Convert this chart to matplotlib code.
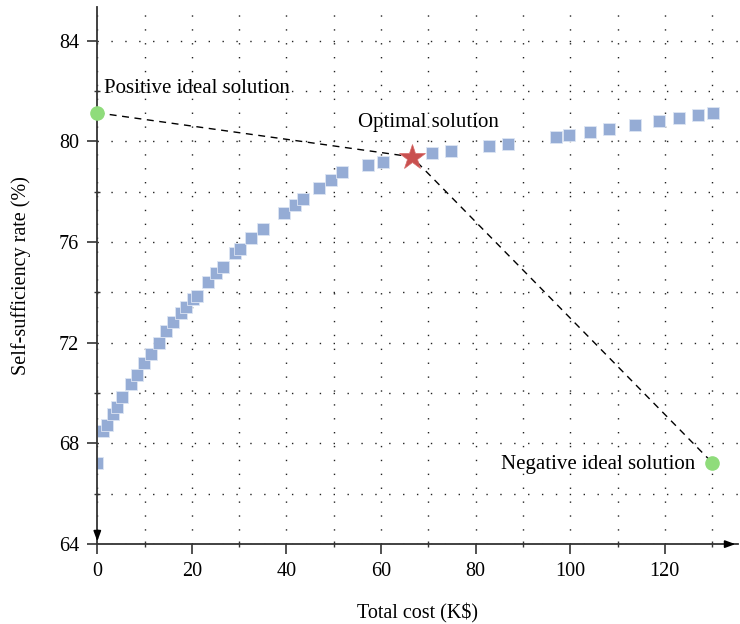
import matplotlib.pyplot as plt
from matplotlib.ticker import MultipleLocator

# Pareto front: total cost (K$) vs self-sufficiency rate (%)
cost = [0.0, 1.1, 1.95, 3.4, 4.2, 5.3, 7.1, 8.3, 9.8, 11.35, 13.0, 14.6, 16.1,
        17.7, 18.75, 20.3, 21.0, 23.5, 25.0, 26.5, 29.2, 30.2, 32.5, 35.1,
        39.5, 41.7, 43.4, 46.9, 49.4, 51.8, 57.3, 60.4, 70.8, 74.8, 82.8,
        86.9, 97.0, 99.8, 104.1, 108.2, 113.6, 118.7, 122.9, 127.0, 130.2]
rate = [67.24, 68.51, 68.75, 69.19, 69.45, 69.86, 70.38, 70.74, 71.18, 71.57,
        72.01, 72.47, 72.81, 73.18, 73.42, 73.74, 73.88, 74.42, 74.76, 75.03,
        75.55, 75.73, 76.15, 76.54, 77.16, 77.46, 77.70, 78.14, 78.45, 78.77,
        79.07, 79.19, 79.53, 79.63, 79.81, 79.92, 80.18, 80.26, 80.36, 80.50,
        80.66, 80.82, 80.92, 81.04, 81.12]

positive_ideal = (0.0, 81.14)
negative_ideal = (130.0, 67.24)
optimal = (66.5, 79.39)

plt.rcParams['font.family'] = ['Liberation Serif', 'DejaVu Serif']

fig = plt.figure(figsize=(7.4, 6.24), dpi=100)
ax = fig.add_axes([0.1315, 0.128, 0.866, 0.861])

ax.set_xlim(0, 135.5)
ax.set_ylim(64, 85.35)

grid_style = dict(color='#222222', linestyle=(0, (1, 9)), linewidth=1.0)
ax.xaxis.set_major_locator(MultipleLocator(20))
ax.xaxis.set_minor_locator(MultipleLocator(10))
ax.yaxis.set_major_locator(MultipleLocator(4))
ax.yaxis.set_minor_locator(MultipleLocator(2))
ax.grid(True, which='both', **grid_style)
ax.set_axisbelow(True)

# dashed lines ideal -> optimal -> negative
ax.plot([positive_ideal[0], optimal[0], negative_ideal[0]],
        [positive_ideal[1], optimal[1], negative_ideal[1]],
        color='black', linestyle=(0, (5, 4)), linewidth=1.0, zorder=3)

ax.plot(cost, rate, linestyle='none', marker='s', markersize=9.3,
        markerfacecolor='#95acd5', markeredgecolor='#dde5f3',
        markeredgewidth=0.6, zorder=2, clip_on=True)

ax.plot(*positive_ideal, 'o', color='#8fdc7b', markersize=9.5, zorder=4, clip_on=False)
ax.plot(*negative_ideal, 'o', color='#8fdc7b', markersize=9.5, zorder=4, clip_on=False)
ax.plot(*optimal, '*', color='#c9504f', markersize=19, markeredgecolor='#d76a68',
        markeredgewidth=0.5, zorder=5)

ax.text(1.4, 82.1, 'Positive ideal solution', fontsize=15, va='center', ha='left')
ax.text(70.0, 80.74, 'Optimal solution', fontsize=15, va='center', ha='center')
ax.text(126.4, 67.18, 'Negative ideal solution', fontsize=15, va='center', ha='right')

for side in ('top', 'right'):
    ax.spines[side].set_visible(False)
for side in ('left', 'bottom'):
    ax.spines[side].set_color('#333333')
    ax.spines[side].set_linewidth(1.3)

ax.tick_params(which='major', direction='out', length=7, width=1.2,
               color='#333333', labelsize=14.5, pad=6)
ax.tick_params(which='minor', direction='inout', length=5, width=1.0,
               color='#333333')

# axis arrows
ax.annotate('', xy=(1.0, 0), xytext=(0.98, 0), xycoords='axes fraction',
            arrowprops=dict(arrowstyle='-|>,head_length=0.6,head_width=0.22',
                            color='black', lw=1.2))
ax.annotate('', xy=(0, 0), xytext=(0, 0.03), xycoords='axes fraction',
            arrowprops=dict(arrowstyle='-|>,head_length=0.6,head_width=0.22',
                            color='black', lw=1.2))

ax.set_xlabel('Total cost (K$)', fontsize=14.5, labelpad=16)
ax.set_ylabel('Self-sufficiency rate (%)', fontsize=14.5, labelpad=20)

fig.savefig('out.png', dpi=100)
